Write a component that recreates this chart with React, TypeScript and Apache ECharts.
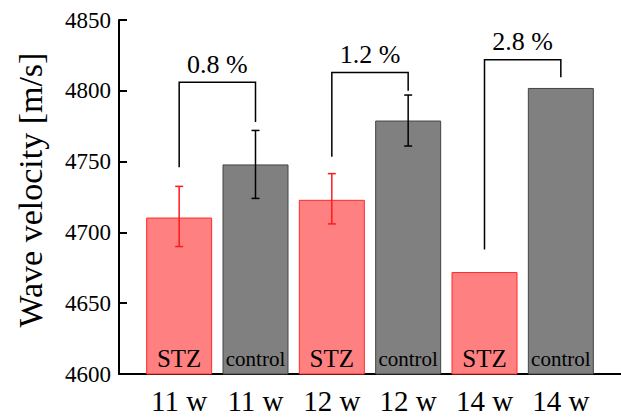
import React, { useEffect, useRef } from "react";
import * as echarts from "echarts";

const categories = ["11 w", "11 w", "12 w", "12 w", "14 w", "14 w"];
const stzValues = [4710.5, null, 4723, null, 4672, null];
const controlValues = [null, 4748, null, 4779, null, 4802];
// [category index, low, high, group (0 = STZ, 1 = control)]
const errorBars = [
  [0, 4690, 4732.5, 0],
  [1, 4724, 4772, 1],
  [2, 4706, 4741.5, 0],
  [3, 4761, 4797, 1],
];
// [left index, right index, left bottom, right bottom, top]
const brackets = [
  [0, 1, 4746, 4778, 4806],
  [2, 3, 4753.5, 4800, 4813],
  [4, 5, 4688, 4809.5, 4822],
];
const bracketLabels = ["0.8 %", "1.2 %", "2.8 %"];
const yTicks = { min: 4600, max: 4850, interval: 50 };

const FONT = "Liberation Serif";

export default function App() {
  const ref = useRef<HTMLDivElement>(null);
  useEffect(() => {
    if (!ref.current) return;
    const chart = echarts.init(ref.current, null, { renderer: "svg" });
    chart.setOption({
      animation: false,
      backgroundColor: "#fff",
      textStyle: { fontFamily: FONT },
      grid: [
        { left: 141, right: 22, top: 20, bottom: 45 },
        { left: 119, right: 0, top: 20, bottom: 45 },
      ],
      xAxis: [
        {
          type: "category",
          gridIndex: 0,
          data: categories,
          axisLine: { show: false },
          axisTick: { show: false },
          axisLabel: { fontFamily: FONT, fontSize: 29, color: "#000", margin: 12 },
        },
        {
          type: "value",
          gridIndex: 1,
          min: 0,
          max: 1,
          axisLine: { show: true, onZero: false, lineStyle: { color: "#000", width: 2 } },
          axisTick: { show: false },
          axisLabel: { show: false },
          splitLine: { show: false },
        },
      ],
      yAxis: [
        {
          type: "value",
          gridIndex: 0,
          min: yTicks.min,
          max: yTicks.max,
          interval: yTicks.interval,
          show: false,
          splitLine: { show: false },
        },
        {
          type: "value",
          gridIndex: 1,
          min: yTicks.min,
          max: yTicks.max,
          interval: yTicks.interval,
          name: "Wave velocity [m/s]",
          nameLocation: "middle",
          nameGap: 72,
          nameTextStyle: { fontFamily: FONT, fontSize: 34, color: "#000", padding: [0, 0, 0, 14] },
          axisLine: { show: true, onZero: false, lineStyle: { color: "#000", width: 2 } },
          axisTick: { show: true, inside: true, length: 8, lineStyle: { color: "#000", width: 2 } },
          axisLabel: {
            fontFamily: FONT,
            fontSize: 23,
            color: "#000",
            margin: 8,
            formatter: (v: number) => String(v),
          },
          splitLine: { show: false },
        },
      ],
      series: [
        {
          name: "STZ",
          type: "bar",
          xAxisIndex: 0,
          yAxisIndex: 0,
          data: stzValues,
          barWidth: 66,
          barGap: "-100%",
          itemStyle: { color: "#ff8080", borderColor: "#ff2a2a", borderWidth: 1 },
          label: {
            show: true,
            position: "insideBottom",
            distance: 4,
            formatter: "STZ",
            fontFamily: FONT,
            fontSize: 25,
            color: "#000",
          },
        },
        {
          name: "control",
          type: "bar",
          xAxisIndex: 0,
          yAxisIndex: 0,
          data: controlValues,
          barWidth: 66,
          barGap: "-100%",
          itemStyle: { color: "#808080", borderColor: "#444", borderWidth: 1 },
          label: {
            show: true,
            position: "insideBottom",
            distance: 5,
            formatter: "control",
            fontFamily: FONT,
            fontSize: 21,
            color: "#000",
          },
        },
        {
          type: "custom",
          xAxisIndex: 0,
          yAxisIndex: 0,
          data: errorBars,
          encode: { x: 0, y: [1, 2] },
          z: 5,
          renderItem: (params: any, api: any) => {
            const x = api.value(0);
            const lo = api.coord([x, api.value(1)]);
            const hi = api.coord([x, api.value(2)]);
            const color = api.value(3) === 0 ? "#ff1a1a" : "#000";
            const w = 4;
            const style = { stroke: color, lineWidth: 1.5 };
            return {
              type: "group",
              children: [
                { type: "line", shape: { x1: lo[0], y1: lo[1], x2: hi[0], y2: hi[1] }, style },
                { type: "line", shape: { x1: lo[0] - w, y1: lo[1], x2: lo[0] + w, y2: lo[1] }, style },
                { type: "line", shape: { x1: hi[0] - w, y1: hi[1], x2: hi[0] + w, y2: hi[1] }, style },
              ],
            };
          },
        },
        {
          type: "custom",
          xAxisIndex: 0,
          yAxisIndex: 0,
          data: brackets,
          encode: { x: [0, 1], y: [2, 3, 4] },
          z: 6,
          renderItem: (params: any, api: any) => {
            const li = api.value(0);
            const ri = api.value(1);
            const lb = api.coord([li, api.value(2)]);
            const rb = api.coord([ri, api.value(3)]);
            const top = api.coord([li, api.value(4)])[1];
            return {
              type: "group",
              children: [
                {
                  type: "polyline",
                  shape: {
                    points: [
                      [lb[0], lb[1]],
                      [lb[0], top],
                      [rb[0], top],
                      [rb[0], rb[1]],
                    ],
                  },
                  style: { stroke: "#000", lineWidth: 1.5, fill: "none" },
                },
                {
                  type: "text",
                  x: (lb[0] + rb[0]) / 2,
                  y: top - 5,
                  style: {
                    text: bracketLabels[params.dataIndex],
                    textAlign: "center",
                    textVerticalAlign: "bottom",
                    fontFamily: FONT,
                    fontSize: 26,
                    fill: "#000",
                  },
                },
              ],
            };
          },
        },
      ],
    });
    return () => chart.dispose();
  }, []);
  return <div ref={ref} style={{ width: 621, height: 419, position: "absolute", left: 0, top: 0 }} />;
}
